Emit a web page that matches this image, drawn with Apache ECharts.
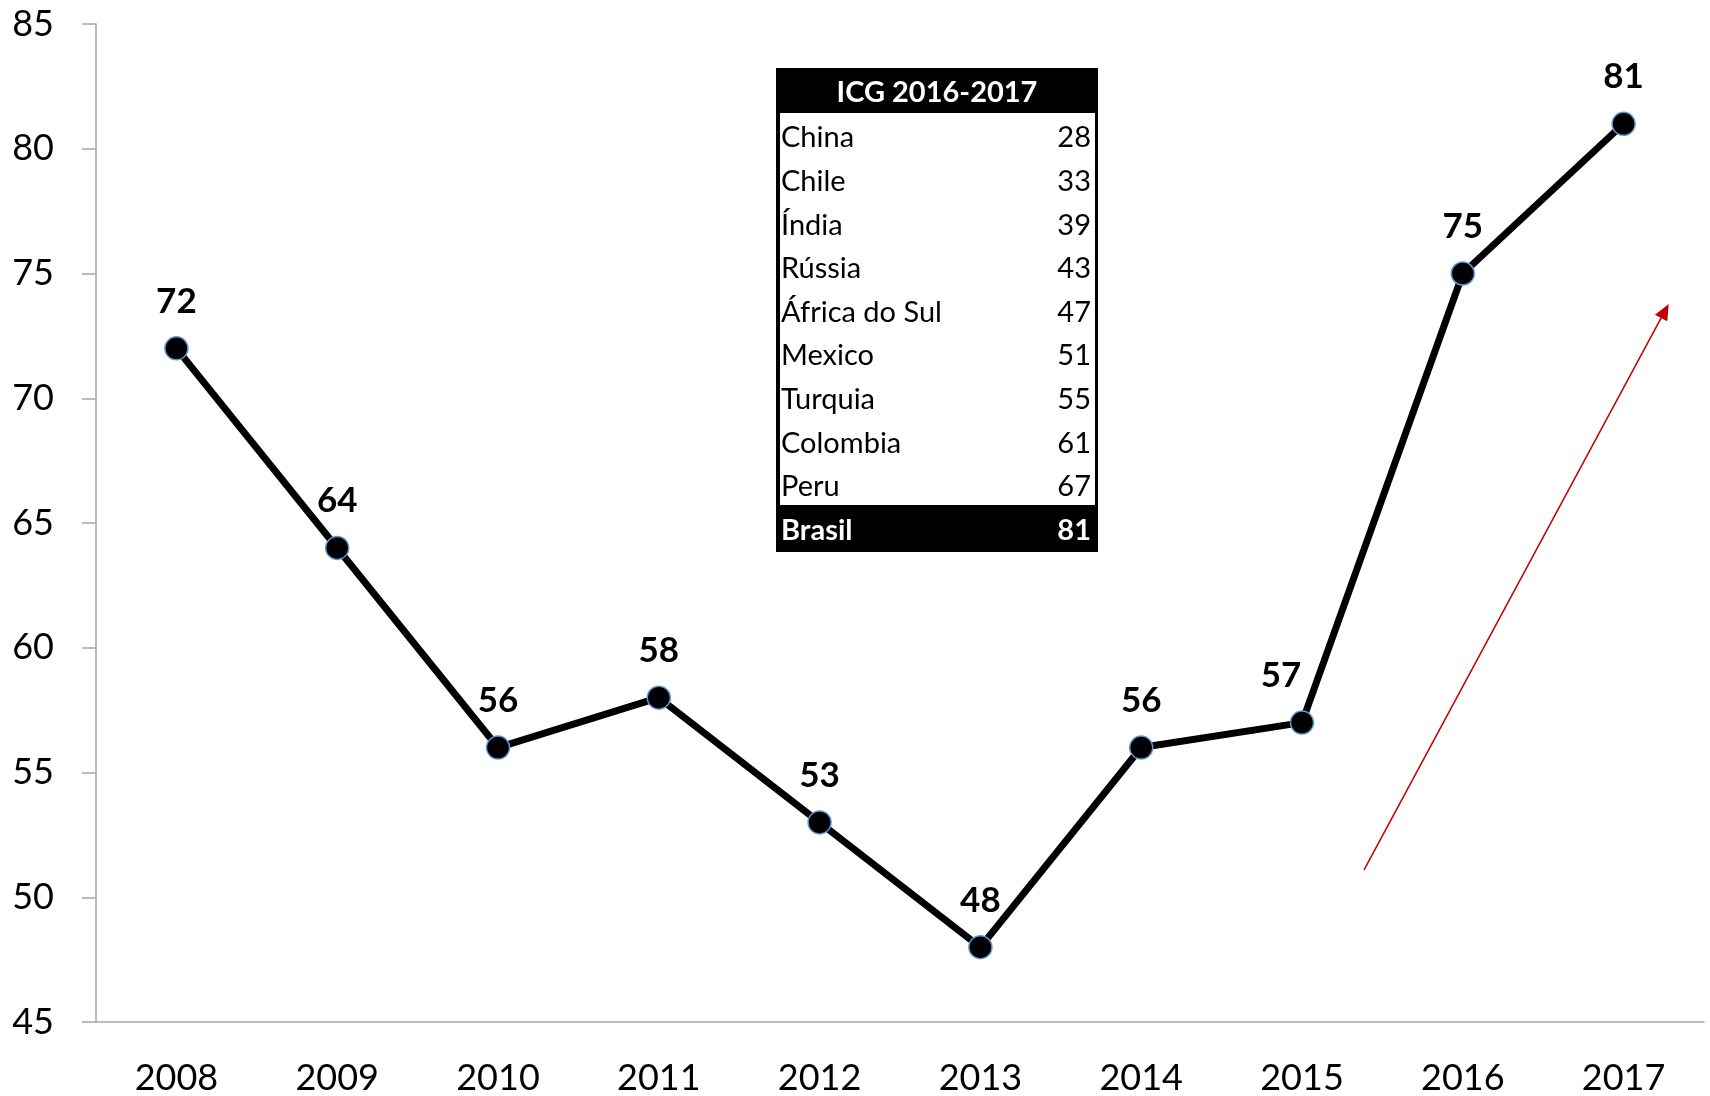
<!DOCTYPE html>
<html>
<head>
<meta charset="utf-8">
<script src="https://cdn.jsdelivr.net/npm/echarts@6/dist/echarts.min.js"></script>
<style>
  html, body { margin: 0; padding: 0; background: #fff; }
  #chart { width: 1710px; height: 1096px; }
</style>
</head>
<body>
<div id="chart"></div>
<script>
const years = ['2008', '2009', '2010', '2011', '2012', '2013', '2014', '2015', '2016', '2017']
const icgValues = [72, 64, 56, 58, 53, 48, 56, 57, 75, 81]

// side table (ranking ICG 2016-2017)
const tableTitle = 'ICG 2016-2017'
const tableCountries = ['China', 'Chile', 'Índia', 'Rússia', 'África do Sul', 'Mexico', 'Turquia', 'Colombia', 'Peru', 'Brasil']
const tableValues = [28, 33, 39, 43, 47, 51, 55, 61, 67, 81]

// red trend arrow, in [category position, value]
const arrowFrom = [7.386, 51.1]
const arrowTo = [9.257, 73.5]

const font = 'Lato, "Open Sans", sans-serif'

const buildTable = () => {
  const left = 776, top = 68, width = 322, height = 484
  const rowH = 43.6, firstRow = 138
  const els = []
  els.push({ type: 'rect', shape: { x: left, y: top, width: width, height: height }, style: { fill: '#000' } })
  els.push({ type: 'rect', shape: { x: left + 4, y: 113, width: width - 7, height: 392 }, style: { fill: '#fff' } })
  els.push({
    type: 'text', x: left + width / 2, y: 93,
    style: { text: tableTitle, fill: '#fff', font: 'bold 29px ' + font, align: 'center', verticalAlign: 'middle' }
  })
  tableCountries.forEach((name, i) => {
    const last = i === tableCountries.length - 1
    const y = last ? 531 : firstRow + i * rowH
    const color = last ? '#fff' : '#000'
    const weight = last ? 'bold ' : ''
    els.push({
      type: 'text', x: 781, y: y,
      style: { text: name, fill: color, font: weight + '29px ' + font, align: 'left', verticalAlign: 'middle' }
    })
    els.push({
      type: 'text', x: 1091, y: y,
      style: { text: String(tableValues[i]), fill: color, font: weight + '29px ' + font, align: 'right', verticalAlign: 'middle' }
    })
  })
  return els
}

// the 2015 label sits a bit to the left so it does not hit the line
const lineData = icgValues.map((v, i) => {
  if (years[i] === '2015') return { value: v, label: { offset: [-21, 0] } }
  return v
})

const chart = echarts.init(document.getElementById('chart'))
const option = {
  animation: false,
  backgroundColor: '#fff',
  grid: { left: 96, right: 6, top: 24, bottom: 74, containLabel: false },
  xAxis: [{
    type: 'category',
    data: years,
    boundaryGap: true,
    axisLine: { lineStyle: { color: '#a6a6a6', width: 1.5 } },
    axisTick: { length: 14, lineStyle: { color: '#a6a6a6', width: 1.5 } },
    axisLabel: { color: '#000', fontSize: 36, fontFamily: font, margin: 38 },
    splitLine: { show: false }
  }, {
    // hidden helper axis matching the category positions, used for the arrow
    type: 'value', min: -0.5, max: 9.5, show: false
  }],
  yAxis: {
    type: 'value',
    min: 45,
    max: 85,
    interval: 5,
    axisLine: { show: true, onZero: false, lineStyle: { color: '#a6a6a6', width: 1.5 } },
    axisTick: { show: true, length: 14, lineStyle: { color: '#a6a6a6', width: 1.5 } },
    axisLabel: { color: '#000', fontSize: 36, fontFamily: font, margin: 42 },
    splitLine: { show: false }
  },
  series: [{
    type: 'line',
    data: lineData,
    symbol: 'circle',
    symbolSize: 23,
    itemStyle: { color: '#000', borderColor: '#5b9bd5', borderWidth: 1.5 },
    lineStyle: { color: '#000', width: 7 },
    label: {
      show: true, position: 'top', distance: 17,
      color: '#000', fontSize: 35, fontWeight: 'bold', fontFamily: font
    },
    z: 3
  }, {
    type: 'line',
    xAxisIndex: 1,
    data: [],
    silent: true,
    markLine: {
      silent: true,
      symbol: ['none', 'triangle'],
      symbolSize: [14, 16],
      label: { show: false },
      lineStyle: { color: '#c00000', width: 1.5, type: 'solid' },
      data: [[{ coord: arrowFrom }, { coord: arrowTo }]]
    }
  }],
  graphic: buildTable()
}
chart.setOption(option)
</script>
</body>
</html>
